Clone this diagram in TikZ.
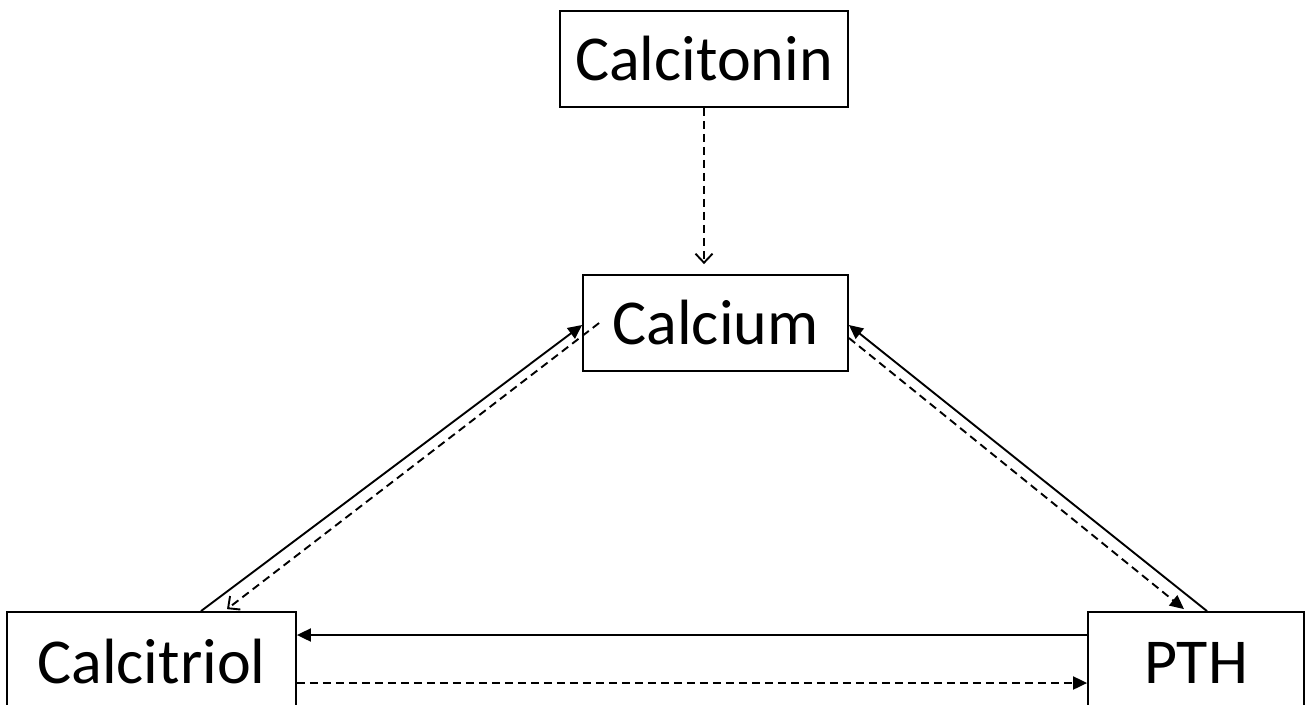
\documentclass[tikz,border=0pt]{standalone}
\usepackage{fontspec}
\setmainfont{Carlito}
\usepackage{tikz}
\usetikzlibrary{arrows.meta}
\usetikzlibrary{positioning}

\begin{document}
\begin{tikzpicture}[
    x=1pt, y=-1pt,
    box/.style={rectangle, draw, line width=1.8pt, inner sep=0pt, text height=42pt, text depth=0pt,
                font=\fontsize{64}{76}\selectfont},
    link/.style={line width=1.9pt, -{Triangle[length=14pt,width=13pt]}},
    back/.style={line width=1.9pt, dash pattern=on 8pt off 5pt, -{Triangle[length=14pt,width=13pt]}},
    weak/.style={line width=1.9pt, dash pattern=on 8pt off 5pt, -{Straight Barb[length=9pt,width=17pt,line width=1.9pt]}}
]
\clip (0,0) rectangle (1305,704);

% Hormones and calcium
\node[box, minimum width=288pt, minimum height=96pt] (calcitonin) at (704,59) {Calcitonin};
\node[box, minimum width=265pt, minimum height=96pt] (calcium) at (715.5,323) {Calcium};
\node[box, minimum width=289pt, minimum height=100pt] (calcitriol) at (151.5,662) {Calcitriol};
\node[box, minimum width=216pt, minimum height=100pt] (pth) at (1196,662) {PTH};

% Calcitonin acts on calcium
\draw[weak, shorten >=10pt] (calcitonin.south) -- (calcitonin.south |- calcium.north);

% Calcitriol - calcium
\draw[link] ([xshift=49.5pt]calcitriol.north) -- ([yshift=-2pt]calcium.west);
\draw[weak] ([xshift=17pt]calcium.west) -- ([xshift=75.5pt,yshift=2pt]calcitriol.north);

% PTH - calcium
\draw[link] ([xshift=11pt]pth.north) -- ([yshift=-2pt]calcium.east);
\draw[back] ([yshift=-15pt]calcium.east) -- ([xshift=-12pt,yshift=2pt]pth.north);

% PTH - calcitriol
\draw[link] ([yshift=27pt]pth.west) -- ([yshift=27pt]calcitriol.east);
\draw[back] ([yshift=-21pt]calcitriol.east) -- ([yshift=-21pt]pth.west);

\end{tikzpicture}
\end{document}
